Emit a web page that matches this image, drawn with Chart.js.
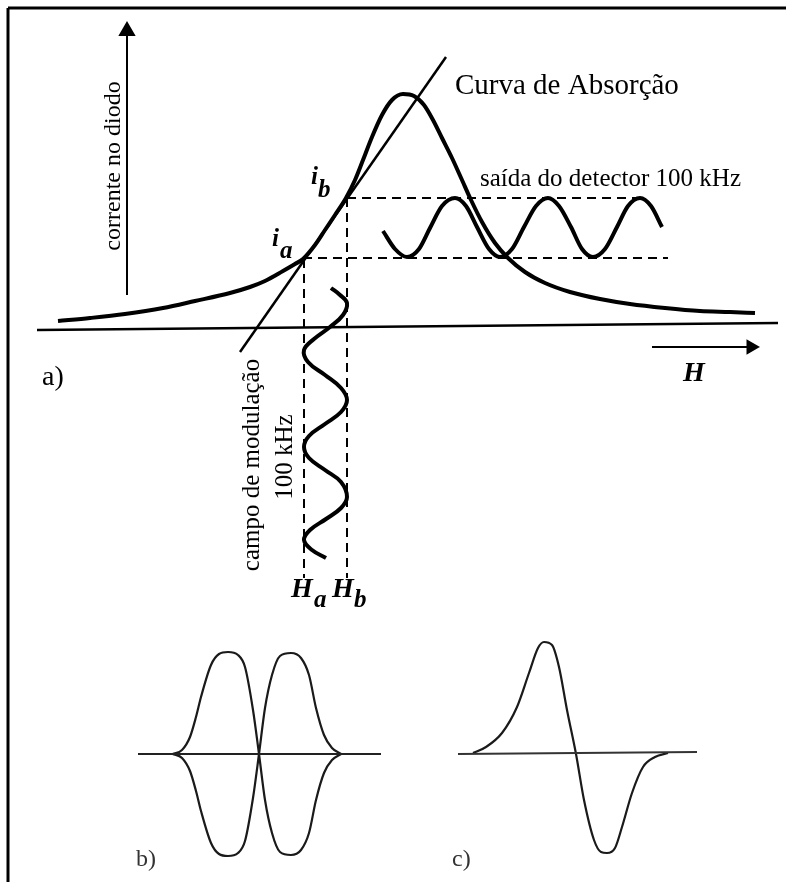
<!DOCTYPE html>
<html>
<head>
<meta charset="utf-8">
<script src="https://cdn.jsdelivr.net/npm/chart.js@4/dist/chart.umd.min.js"></script>
<style>
html,body{margin:0;padding:0;background:#fff;}
#wrap{width:786px;height:882px;}
</style>
</head>
<body>
<div id="wrap"><canvas id="c" width="786" height="882"></canvas></div>
<script>
// ---- data (diagram units: x right, y down) ----
const absorptionX = [58, 90, 125, 163, 195, 230, 250, 265, 283, 295, 303, 315, 325, 335, 346, 355, 363, 372, 382, 392, 403, 414, 424, 433, 442, 452, 462, 471, 482, 495, 508, 525, 545, 570, 600, 630, 665, 700, 730, 755];
const absorptionY = [321, 318, 314, 308, 301, 293, 287, 281, 271, 264, 259, 245, 230, 215, 198, 180, 160, 137, 115, 100, 94, 96, 105, 120, 138, 158, 180, 200, 222, 243, 258, 272, 283, 292, 299, 304, 308, 311, 312, 313];

const detectorX = [383, 395, 407, 419, 430, 442, 455, 466, 477, 489, 500, 512, 524, 536, 548, 559, 571, 582, 593, 605, 617, 628, 640, 651, 662];
const detectorY = [231, 249, 257, 249, 228, 206, 198, 206, 227, 249, 257, 249, 227, 206, 198, 206, 227, 249, 257, 249, 227, 206, 198, 206, 227];

const modulationX = [331, 340, 347, 343, 330, 314, 304, 308, 325, 341, 347, 341, 325, 309, 304, 309, 325, 341, 347, 341, 326, 310, 304, 312, 326];
const modulationY = [288, 295, 303, 315, 327, 339, 350, 362, 375, 388, 400, 412, 424, 436, 447, 458, 470, 482, 497, 508, 519, 530, 540, 550, 558];

const tangentX = [240, 446];
const tangentY = [352, 57];

const fieldAxisX = [37, 778];
const fieldAxisY = [330, 323];

const currentArrowX = [127, 127];
const currentArrowY = [295, 31];

const fieldArrowX = [652, 751];
const fieldArrowY = [347, 347];

const dashHaX = [304, 304], dashHaY = [259, 578];
const dashHbX = [347, 347], dashHbY = [198, 578];
const dashIbX = [347, 645], dashIbY = [198, 198];
const dashIaX = [303, 668], dashIaY = [258, 258];

const frameTopX = [8, 786], frameTopY = [8, 8];
const frameLeftX = [8, 8], frameLeftY = [8, 882];

const bX = [172.7, 182, 190, 196, 201, 211, 219, 228, 238, 245, 253, 259, 265, 272, 280, 291, 301, 309, 316, 324, 332, 341];
const bUpLeftY = [754, 750, 737, 717, 697, 665, 654, 652, 655, 667, 710, 754, 800, 833, 852, 855, 850, 833, 800, 773, 760, 754];
const bDownLeftY = [754, 758, 771, 791, 811, 843, 854, 856, 853, 841, 798, 754, 708, 675, 656, 653, 658, 675, 708, 735, 748, 754];
const bBaseX = [138, 381], bBaseY = [754, 754];

const cX = [473, 486, 502, 517, 529, 538, 544, 552, 559, 567, 576, 584, 594, 601, 607, 615, 622, 632, 643, 655, 668];
const cY = [753, 747, 733, 707, 673, 648, 642, 645, 667, 710, 754, 800, 840, 852, 853, 848, 827, 793, 767, 757, 753];
const cBaseX = [458, 697], cBaseY = [754, 752];

// ---- text annotations ----
const serif = '"Liberation Serif", "Times New Roman", serif';
const labels = [
  {text: 'Curva de Absorção', x: 455, y: 94, font: '29px ' + serif},
  {text: 'saída do detector 100 kHz', x: 480, y: 186, font: '25px ' + serif},
  {text: 'corrente no diodo', x: 120, y: 166, font: '24px ' + serif, rot: -Math.PI / 2, align: 'center'},
  {text: 'campo de modulação', x: 259, y: 465, font: '25px ' + serif, rot: -Math.PI / 2, align: 'center'},
  {text: '100 kHz', x: 292, y: 457, font: '25px ' + serif, rot: -Math.PI / 2, align: 'center'},
  {text: 'a)', x: 42, y: 385, font: '28px ' + serif},
  {text: 'H', x: 683, y: 381, font: 'italic bold 28px ' + serif},
  {text: 'H', x: 291, y: 597, font: 'italic bold 28px ' + serif},
  {text: 'a', x: 314, y: 607, font: 'italic bold 25px ' + serif},
  {text: 'H', x: 332, y: 597, font: 'italic bold 28px ' + serif},
  {text: 'b', x: 354, y: 607, font: 'italic bold 25px ' + serif},
  {text: 'i', x: 272, y: 246, font: 'italic bold 25px ' + serif},
  {text: 'a', x: 280, y: 258, font: 'italic bold 25px ' + serif},
  {text: 'i', x: 311, y: 184, font: 'italic bold 25px ' + serif},
  {text: 'b', x: 318, y: 197, font: 'italic bold 25px ' + serif},
  {text: 'b)', x: 136, y: 866, font: '24px ' + serif, color: '#333'},
  {text: 'c)', x: 452, y: 866, font: '24px ' + serif, color: '#333'}
];

function pts(xs, ys) { return xs.map((x, i) => ({x: x, y: ys[i]})); }
function line(xs, ys, opts) {
  return Object.assign({
    data: pts(xs, ys), showLine: true, pointRadius: 0, pointHoverRadius: 0, borderColor: '#000',
    backgroundColor: '#000', borderWidth: 2, fill: false, tension: 0, clip: false
  }, opts || {});
}

const datasets = [
  line(frameTopX, frameTopY, {borderWidth: 3}),
  line(frameLeftX, frameLeftY, {borderWidth: 3}),
  line(fieldAxisX, fieldAxisY, {borderWidth: 2.5}),
  line(tangentX, tangentY, {borderWidth: 2.5}),
  line(dashHaX, dashHaY, {borderWidth: 2, borderDash: [9, 6]}),
  line(dashHbX, dashHbY, {borderWidth: 2, borderDash: [9, 6]}),
  line(dashIbX, dashIbY, {borderWidth: 2, borderDash: [9, 6]}),
  line(dashIaX, dashIaY, {borderWidth: 2, borderDash: [9, 6]}),
  line(absorptionX, absorptionY, {borderWidth: 4, cubicInterpolationMode: 'monotone'}),
  line(detectorX, detectorY, {borderWidth: 4, cubicInterpolationMode: 'monotone'}),
  line(modulationX, modulationY, {borderWidth: 4, tension: 0.4}),
  line(currentArrowX, currentArrowY, {borderWidth: 2, pointRadius: [0, 8], pointStyle: 'triangle', pointRotation: 0}),
  line(fieldArrowX, fieldArrowY, {borderWidth: 2, pointRadius: [0, 7], pointStyle: 'triangle', pointRotation: 90}),
  line(bBaseX, bBaseY, {borderWidth: 2, borderColor: '#222'}),
  line(bX, bUpLeftY, {borderWidth: 2.2, borderColor: '#1a1a1a', cubicInterpolationMode: 'monotone'}),
  line(bX, bDownLeftY, {borderWidth: 2.2, borderColor: '#1a1a1a', cubicInterpolationMode: 'monotone'}),
  line(cBaseX, cBaseY, {borderWidth: 2, borderColor: '#333'}),
  line(cX, cY, {borderWidth: 2.2, borderColor: '#1a1a1a', cubicInterpolationMode: 'monotone'})
];

const bgPlugin = {
  id: 'bg',
  beforeDraw(chart) {
    const ctx = chart.ctx;
    ctx.save(); ctx.fillStyle = '#fff'; ctx.fillRect(0, 0, chart.width, chart.height); ctx.restore();
  }
};
const textPlugin = {
  id: 'texts',
  afterDatasetsDraw(chart) {
    const ctx = chart.ctx, sx = chart.scales.x, sy = chart.scales.y;
    labels.forEach(l => {
      ctx.save();
      ctx.translate(sx.getPixelForValue(l.x), sy.getPixelForValue(l.y));
      if (l.rot) ctx.rotate(l.rot);
      ctx.font = l.font;
      ctx.fillStyle = l.color || '#000';
      ctx.textAlign = l.align || 'left';
      ctx.textBaseline = 'alphabetic';
      ctx.fillText(l.text, 0, 0);
      ctx.restore();
    });
  }
};

new Chart(document.getElementById('c'), {
  type: 'scatter',
  data: {datasets: datasets},
  options: {
    responsive: false,
    animation: false,
    devicePixelRatio: 1,
    layout: {padding: 0, autoPadding: false},
    plugins: {legend: {display: false}, tooltip: {enabled: false}},
    elements: {point: {radius: 0, hoverRadius: 0}},
    scales: {
      x: {type: 'linear', min: 0, max: 786, display: false},
      y: {type: 'linear', min: 0, max: 882, reverse: true, display: false}
    }
  },
  plugins: [bgPlugin, textPlugin]
});
</script>
</body>
</html>
